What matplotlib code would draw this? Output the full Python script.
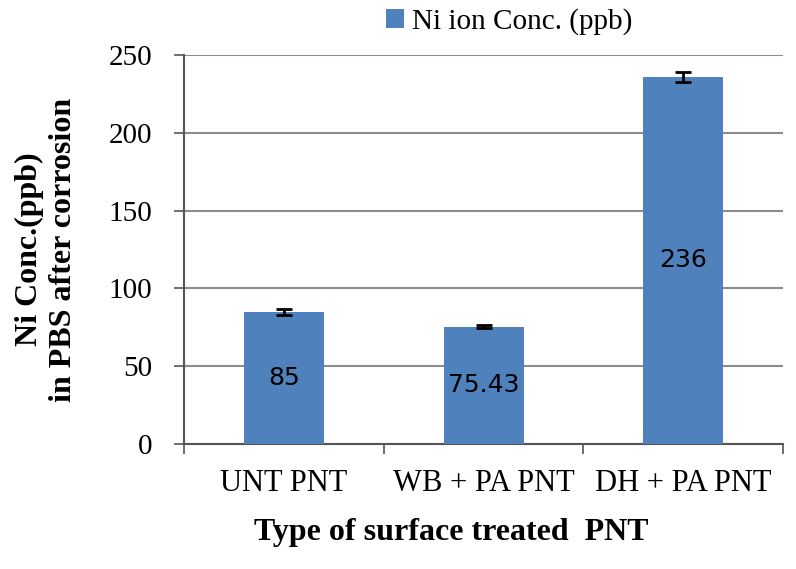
import numpy as np
import matplotlib.pyplot as plt

categories = ['UNT PNT', 'WB + PA PNT', 'DH + PA PNT']
ni_conc = [85, 75.43, 236]
ni_err = [2.0, 1.0, 3.0]
value_labels = ['85', '75.43', '236']

plt.rcParams['font.family'] = ['Liberation Serif', 'DejaVu Serif']

fig = plt.figure(figsize=(7.96, 5.69), dpi=100)
ax = fig.add_axes([0.231, 0.22, 0.753, 0.683])

x = np.arange(len(categories))
bars = ax.bar(x, ni_conc, width=0.4, color='#4F81BD', zorder=3,
              label='Ni ion Conc. (ppb)')
ax.errorbar(x, ni_conc, yerr=ni_err, fmt='none', ecolor='black',
            elinewidth=2, capsize=6, capthick=2, zorder=4)

for xi, v, lab in zip(x, ni_conc, value_labels):
    ax.text(xi, v / 2, lab, ha='center', va='center', fontsize=18,
            family='DejaVu Sans', color='black', zorder=5)

ax.set_ylim(0, 250)
ax.set_xlim(-0.5, 2.5)
ax.set_yticks(np.arange(0, 251, 50))
ax.yaxis.grid(True, color='#8c8c8c', linewidth=1.5, zorder=0)
ax.set_axisbelow(True)

ax.set_xticks(x)
ax.set_xticklabels(categories, fontsize=22)
ax.set_xticks([-0.5, 0.5, 1.5, 2.5], minor=True)
ax.tick_params(axis='x', which='major', length=0, pad=18)
ax.tick_params(axis='x', which='minor', length=7, width=1.2, color='#555555')
ax.tick_params(axis='y', labelsize=21, length=7, width=1.2, color='#555555', pad=16)

for s in ['top', 'right']:
    ax.spines[s].set_visible(False)
for s in ['left', 'bottom']:
    ax.spines[s].set_color('#555555')
    ax.spines[s].set_linewidth(1.5)

ax.set_xlabel('Type of surface treated  PNT', fontsize=23, fontweight='bold')
ax.xaxis.set_label_coords(0.446, -0.19)
ax.set_ylabel('Ni Conc.(ppb)\nin PBS after corrosion', fontsize=23,
              fontweight='bold')
ax.yaxis.set_label_coords(-0.177, 0.5)

fig.legend(handles=[bars], loc='center left', bbox_to_anchor=(0.485, 0.962),
           frameon=False, fontsize=21, handlelength=0.6, handleheight=0.6,
           handletextpad=0.3, borderpad=0, borderaxespad=0)

fig.savefig('out.png', dpi=100)
